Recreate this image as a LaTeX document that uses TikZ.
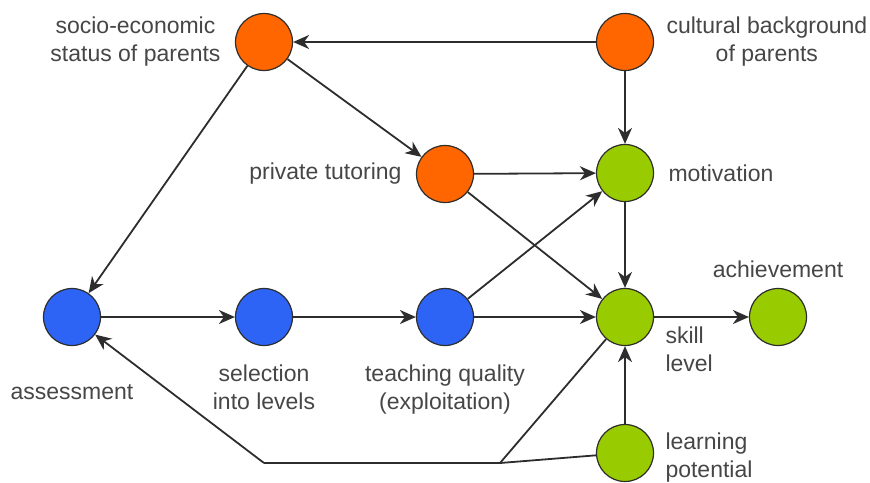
\documentclass[tikz,border=0pt]{standalone}
\usepackage{fontspec}
\setmainfont{Liberation Sans}
\usetikzlibrary{arrows.meta, positioning}
\definecolor{myorange}{RGB}{255,102,0}
\definecolor{myblue}{RGB}{45,100,245}
\definecolor{mygreen}{RGB}{153,204,0}
\definecolor{mydark}{RGB}{45,45,45}
\definecolor{mytext}{RGB}{70,70,70}
\tikzset{
  onode/.style={circle, draw=mydark, fill=myorange, minimum size=28.5pt,
    inner sep=0pt, line width=0.6pt},
  bnode/.style={circle, draw=mydark, fill=myblue, minimum size=28.5pt,
    inner sep=0pt, line width=0.6pt},
  gnode/.style={circle, draw=mydark, fill=mygreen, minimum size=28.5pt,
    inner sep=0pt, line width=0.6pt},
  lbl/.style={font=\fontsize{11.5}{14}\selectfont, text=mytext,
    align=center, inner sep=1pt},
  arrow/.style={-{Stealth[length=8pt, width=7pt, inset=2.5pt]},
    line width=0.9pt, color=mydark},
  line/.style={line width=0.9pt, color=mydark}
}

\begin{document}
\begin{tikzpicture}[x=0.5pt, y=-0.5pt]
  \useasboundingbox (0,0) rectangle (870,482);

  % Parents and tutoring
  \node[onode] (socio) at (264,42) {};
  \node[onode] (cult)  at (625,42) {};
  \node[onode] (tutor) at (445,174) {};

  % School track
  \node[bnode] (assess) at (72,317) {};
  \node[bnode] (select) at (264,317) {};
  \node[bnode] (teach)  at (445,317) {};

  % Student
  \node[gnode] (motiv)   at (625,173) {};
  \node[gnode] (skill)   at (625,317) {};
  \node[gnode] (achieve) at (778,317) {};
  \node[gnode] (learn)   at (625,453) {};

  % Bends of the bottom line
  \coordinate (fork) at (500,463);
  \coordinate (bend) at (264,463);

  % Arrows
  \draw[arrow] (cult) -- (socio);
  \draw[arrow] (cult) -- (motiv);
  \draw[arrow] (socio) -- (tutor);
  \draw[arrow] (socio) -- (assess);
  \draw[arrow] (tutor) -- (motiv);
  \draw[arrow] (tutor) -- (skill);
  \draw[arrow] (motiv) -- (skill);
  \draw[arrow] (assess) -- (select);
  \draw[arrow] (select) -- (teach);
  \draw[arrow] (teach) -- (motiv);
  \draw[arrow] (teach) -- (skill);
  \draw[arrow] (skill) -- (achieve);
  \draw[arrow] (learn) -- (skill);
  \draw[line] (learn) -- (fork) -- (bend);
  \draw[arrow] (bend) -- (assess);
  \draw[line] (fork) -- (skill);

  % Labels
  \node[lbl, left=6pt of socio] (sociotxt) {socio-economic\\status of parents};
  \node[lbl, right=5pt of cult] (culttxt) {cultural background\\of parents};
  \node[lbl, left=6pt of tutor] (tutortxt) {private tutoring};
  \node[lbl, right=6pt of motiv] (motivtxt) {motivation};
  \node[lbl, above=4pt of achieve] (achievetxt) {achievement};
  \node[lbl, align=left, anchor=north west] (skilltxt)
    at ([shift={(9,7)}]skill.east) {skill\\level};
  \node[lbl, align=left, anchor=north west] (learntxt)
    at ([shift={(9,-23)}]learn.east) {learning\\potential};
  \node[lbl, below=18pt of assess] (assesstxt) {assessment};
  \node[lbl, below=8pt of select] (selecttxt) {selection\\into levels};
  \node[lbl, below=8pt of teach] (teachtxt) {teaching quality\\(exploitation)};
\end{tikzpicture}
\end{document}
